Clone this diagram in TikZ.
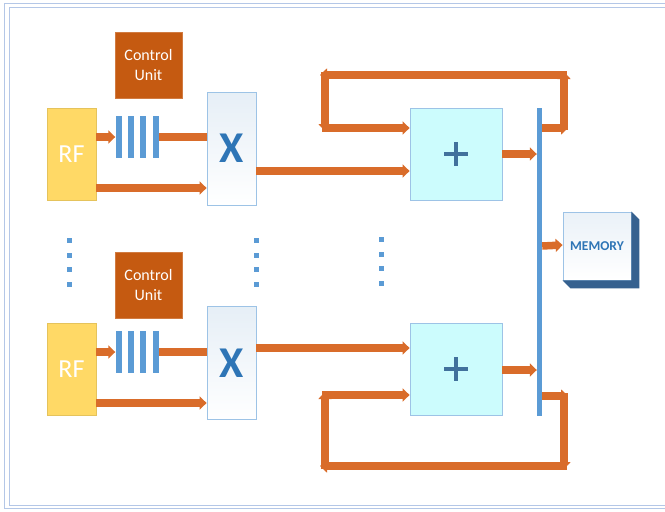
\documentclass[tikz,border=0pt]{standalone}
\usepackage{fontspec}
\setmainfont{Carlito}
\usetikzlibrary{arrows.meta,calc}
\definecolor{cuorange}{HTML}{C55A11}
\definecolor{arr}{HTML}{D96C2A}
\definecolor{rfy}{HTML}{FFD966}
\definecolor{barb}{HTML}{5B9BD5}
\definecolor{xblue}{HTML}{2E75B6}
\definecolor{bord}{HTML}{9DC3E6}
\definecolor{addf}{HTML}{CCFCFD}
\definecolor{plusc}{HTML}{41719C}
\definecolor{memside}{HTML}{36618F}
\definecolor{frame}{HTML}{B4C7E7}
\begin{document}
\begin{tikzpicture}[x=1pt,y=-1pt,
  cu/.style={fill=cuorange,draw=cuorange!80!white,minimum width=67pt,minimum height=66pt,inner sep=0pt,text=white,align=center,font=\fontsize{16}{20}\selectfont},
  rf/.style={fill=rfy,draw=rfy!90!black,minimum width=49pt,minimum height=92pt,inner sep=0pt,text=white,font=\fontsize{26}{26}\selectfont},
  regbar/.style={fill=barb,minimum width=6pt,minimum height=42pt,inner sep=0pt},
  mulbox/.style={top color=xblue!12!white,bottom color=white,draw=bord,line width=0.8pt,minimum width=49pt,minimum height=113pt,inner sep=0pt,text=xblue,font=\bfseries\fontsize{44}{44}\selectfont},
  addbox/.style={fill=addf,draw=bord,line width=0.8pt,minimum width=92pt,minimum height=92pt,inner sep=0pt},
  busbar/.style={fill=barb,minimum width=5pt,minimum height=308pt,inner sep=0pt},
  membox/.style={top color=xblue!10!white,bottom color=white,draw=bord,line width=0.8pt,minimum width=68pt,minimum height=68pt,inner sep=0pt,text=xblue,font=\bfseries\fontsize{13.5}{13.5}\selectfont},
  dotsq/.style={fill=barb,minimum size=5pt,inner sep=0pt},
  oarrow/.style={draw=arr,line width=7.5pt,-{Triangle[length=7pt,width=13pt]}},
  oline/.style={draw=arr,line width=7.5pt},
]
\useasboundingbox (0,0) rectangle (665,512);
% frame
\draw[frame,line width=0.8pt] (4,3) -- (670,3);
\draw[frame,line width=0.8pt] (4,3) -- (4,508) -- (670,508);
\draw[frame,line width=0.8pt] (9,7) -- (670,7);
\draw[frame,line width=0.8pt] (9,7) -- (9,505) -- (670,505);

% ===== top row =====
\node[cu] (cu1) at (148.5,65) {Control\\Unit};
\node[rf] (rf1) at (71.5,154) {RF};
\node[regbar] (b11) at (118.5,137) {};
\node[regbar] (b12) at (130.5,137) {};
\node[regbar] (b13) at (143,137) {};
\node[regbar] (b14) at (156,137) {};
\node[mulbox] (x1) at (231.5,148.5) {X};
\node[addbox] (p1) at (456,154) {};
\draw[plusc,line width=3.5pt] ($(p1.center)+(-12,0)$) -- ($(p1.center)+(12,0)$);
\draw[plusc,line width=3.5pt] ($(p1.center)+(0,-12)$) -- ($(p1.center)+(0,12)$);

% ===== bottom row =====
\node[cu] (cu2) at (148.5,285) {Control\\Unit};
\node[rf] (rf2) at (71.5,369) {RF};
\node[regbar] (b21) at (118.5,352) {};
\node[regbar] (b22) at (130.5,352) {};
\node[regbar] (b23) at (143,352) {};
\node[regbar] (b24) at (156,352) {};
\node[mulbox] (x2) at (231.5,363) {X};
\node[addbox] (p2) at (456,369) {};
\draw[plusc,line width=3.5pt] ($(p2.center)+(-12,0)$) -- ($(p2.center)+(12,0)$);
\draw[plusc,line width=3.5pt] ($(p2.center)+(0,-12)$) -- ($(p2.center)+(0,12)$);

% bus and memory
\node[busbar] (bus) at (539.5,262) {};
\node[membox] (mem) at (597,246) {MEMORY};
\fill[memside] (mem.north east) -- ++(8,8) -- ($(mem.south east)+(8,8)$) -- ($(mem.south west)+(8,8)$) -- (mem.south west) -- (mem.south east) -- cycle;

% dots
\foreach \yy in {240,255,269,284} {
  \node[dotsq] at (69,\yy) {};
  \node[dotsq] at (256,\yy) {};
  \node[dotsq] at (381,\yy-1) {};
}

% ===== connectors top =====
\draw[oarrow] (b11.west -| rf1.east) -- (b11.west);
\draw[oline] (b14.east) -- (b14.east -| x1.west);
\draw[oarrow] ([yshift=-34pt]rf1.east) -- ([yshift=-34pt]rf1.east -| x1.west);
\draw[oarrow] ([yshift=-22.5pt]x1.east) -- ([yshift=-22.5pt]x1.east -| p1.west);
\draw[oarrow] (p1.east) -- (p1.east -| bus.west);
\coordinate (t1) at (bus.east |- 0,128);
\coordinate (t2) at (568,128);
\coordinate (t3) at (564,72);
\coordinate (t4) at (320,75);
\coordinate (t5) at (325,131);
\draw[oarrow] (t1) -- (t2);
\draw[oarrow] (564,130) -- (t3);
\draw[oarrow] (567,75) -- (t4);
\draw[oarrow] (325,72) -- (t5);
\draw[oarrow] (322,128) -- (p1.west |- 0,128);

% ===== connectors bottom =====
\draw[oarrow] (b21.west -| rf2.east) -- (b21.west);
\draw[oline] (b24.east) -- (b24.east -| x2.west);
\draw[oarrow] ([yshift=-34pt]rf2.east) -- ([yshift=-34pt]rf2.east -| x2.west);
\draw[oarrow] ([yshift=15pt]x2.east) -- ([yshift=15pt]x2.east -| p2.west);
\draw[oarrow] ([yshift=-1pt]p2.east) -- ([yshift=-1pt]p2.east -| bus.west);
\coordinate (u1) at (bus.east |- 0,396);
\coordinate (u2) at (568,396);
\coordinate (u3) at (564,469);
\coordinate (u4) at (320,466);
\coordinate (u5) at (325,392);
\draw[oarrow] (u1) -- (u2);
\draw[oarrow] (564,393) -- (u3);
\draw[oarrow] (567,466) -- (u4);
\draw[oarrow] (325,469) -- (u5);
\draw[oarrow] (322,395) -- (p2.west |- 0,395);

% bus -> memory
\draw[oarrow] (bus.east |- mem.west) -- ([yshift=1pt]mem.west);
\end{tikzpicture}
\end{document}
